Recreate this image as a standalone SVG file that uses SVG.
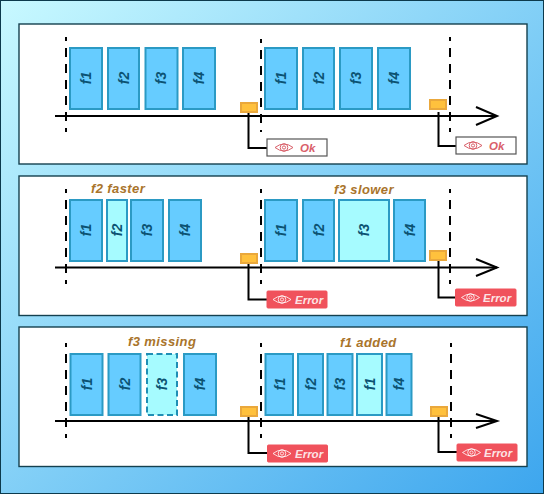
<svg xmlns="http://www.w3.org/2000/svg" width="544" height="494" viewBox="0 0 544 494">
<style>
.panel{fill:#fff;stroke:#14404f;stroke-width:1.4}
.fr{fill:#66ccff;stroke:#2b9ac4;stroke-width:2}
.hi{fill:#a6fbff;stroke:#2b9ac4;stroke-width:2}
.miss{fill:#a6fbff;stroke:#1f8eb5;stroke-width:2;stroke-dasharray:6 3.500}
.ft{font:italic bold 14px "Liberation Sans",Arial,sans-serif;fill:#0b5272;text-anchor:middle;dominant-baseline:central}
.note{font:italic bold 13px "Liberation Sans",Arial,sans-serif;fill:#a9742b;letter-spacing:.4px}
.axis{fill:none;stroke:#000;stroke-width:2}
.head{fill:none;stroke:#000;stroke-width:2}
.tick{stroke:#000;stroke-width:2;stroke-dasharray:9 7;stroke-dashoffset:5;fill:none}
.link{fill:none;stroke:#000;stroke-width:2}
.sensor{fill:#ffc13d;stroke:#eaa83c;stroke-width:2}
.okb{fill:#fff;stroke:#555;stroke-width:1.200}
.errb{fill:#f0525c;stroke:#f0525c;stroke-width:1}
.okt{font:italic bold 11.500px "Liberation Sans",Arial,sans-serif;fill:#d9606a}
.errt{font:italic bold 11.500px "Liberation Sans",Arial,sans-serif;fill:#fff;fill-opacity:.85}
.eo{fill:none;stroke:#d9606a;stroke-width:1}
.ee{fill:none;stroke:#fff;stroke-opacity:.8;stroke-width:1}
</style>
<defs>
<linearGradient id="bg" x1="0" y1="0" x2="1" y2="1"><stop offset="0" stop-color="#c8f9ff"/><stop offset="1" stop-color="#3da6ee"/></linearGradient>
<g id="eye"><path d="M-9 0Q0-7 9 0Q0 7-9 0Z"/><circle r="3.800"/><circle r="1.600"/></g>
</defs>
<rect id="bgrect" x=".5" y=".5" width="543" height="493" fill="url(#bg)" stroke="#0c3a4c"/>
<g id="panels">
<rect class="panel" x="19" y="24" width="508" height="140"/>
<rect class="panel" x="19" y="176" width="508" height="139.500"/>
<rect class="panel" x="19" y="327" width="508" height="139.500"/>
</g>
<g id="connectors">
<path class="tick" d="M66 37V132M261 39V132M450 37V132"/>
<path class="tick" d="M66 189V284M261 189V284M450 189V284"/>
<path class="tick" d="M66 343V438M261 343V438M451 343V438"/>
<path class="axis" d="M55 116H497"/><path class="head" d="M476 107L497 116L476 125"/>
<path class="axis" d="M55 267.500H497"/><path class="head" d="M476 259L497 267.500L476 276"/>
<path class="axis" d="M55 421H497"/><path class="head" d="M476 414L497 421L476 428"/>
<path class="link" d="M248.500 112V148H267M438.500 112V146H456"/>
<path class="link" d="M248.500 263V299.500H267M438.500 260V297.500H455"/>
<path class="link" d="M248.500 416V453H267M438.500 416V452H457"/>
</g>
<g id="row1-frames">
<g id="r1a1"><rect class="fr" x="70" y="48" width="32" height="61"/><text class="ft" transform="translate(86 78) rotate(-90)">f1</text></g>
<g id="r1a2"><rect class="fr" x="108" y="48" width="31" height="61"/><text class="ft" transform="translate(123.500 78) rotate(-90)">f2</text></g>
<g id="r1a3"><rect class="fr" x="145.500" y="48" width="32" height="61"/><text class="ft" transform="translate(161 78) rotate(-90)">f3</text></g>
<g id="r1a4"><rect class="fr" x="183" y="48" width="32" height="61"/><text class="ft" transform="translate(199 78) rotate(-90)">f4</text></g>
<g id="r1b1"><rect class="fr" x="265" y="48" width="32" height="61"/><text class="ft" transform="translate(281 78) rotate(-90)">f1</text></g>
<g id="r1b2"><rect class="fr" x="303" y="48" width="31" height="61"/><text class="ft" transform="translate(318.500 78) rotate(-90)">f2</text></g>
<g id="r1b3"><rect class="fr" x="340" y="48" width="32" height="61"/><text class="ft" transform="translate(356 78) rotate(-90)">f3</text></g>
<g id="r1b4"><rect class="fr" x="378" y="48" width="32" height="61"/><text class="ft" transform="translate(394 78) rotate(-90)">f4</text></g>
</g>
<g id="row2-frames">
<g id="r2a1"><rect class="fr" x="70" y="200" width="32" height="61"/><text class="ft" transform="translate(86 230) rotate(-90)">f1</text></g>
<g id="r2a2"><rect class="hi" x="107" y="200" width="20" height="61"/><text class="ft" transform="translate(117 230) rotate(-90)">f2</text></g>
<g id="r2a3"><rect class="fr" x="131" y="200" width="32" height="61"/><text class="ft" transform="translate(147 230) rotate(-90)">f3</text></g>
<g id="r2a4"><rect class="fr" x="169" y="200" width="32" height="61"/><text class="ft" transform="translate(185 230) rotate(-90)">f4</text></g>
<g id="r2b1"><rect class="fr" x="265" y="200" width="32" height="61"/><text class="ft" transform="translate(281 230) rotate(-90)">f1</text></g>
<g id="r2b2"><rect class="fr" x="303" y="200" width="31" height="61"/><text class="ft" transform="translate(318.500 230) rotate(-90)">f2</text></g>
<g id="r2b3"><rect class="hi" x="339" y="200" width="50" height="61"/><text class="ft" transform="translate(364 230) rotate(-90)">f3</text></g>
<g id="r2b4"><rect class="fr" x="394" y="200" width="31" height="61"/><text class="ft" transform="translate(409.500 230) rotate(-90)">f4</text></g>
</g>
<g id="row3-frames">
<g id="r3a1"><rect class="fr" x="70.500" y="354" width="32" height="61"/><text class="ft" transform="translate(86.500 384) rotate(-90)">f1</text></g>
<g id="r3a2"><rect class="fr" x="108.500" y="354" width="32" height="61"/><text class="ft" transform="translate(124.500 384) rotate(-90)">f2</text></g>
<g id="r3a3"><rect class="miss" x="147" y="354" width="30" height="61"/><text class="ft" transform="translate(162 384) rotate(-90)">f3</text></g>
<g id="r3a4"><rect class="fr" x="184" y="354" width="32" height="61"/><text class="ft" transform="translate(200 384) rotate(-90)">f4</text></g>
<g id="r3b1"><rect class="fr" x="265.500" y="354" width="27.500" height="61"/><text class="ft" transform="translate(279.500 384) rotate(-90)">f1</text></g>
<g id="r3b2"><rect class="fr" x="298" y="354" width="25" height="61"/><text class="ft" transform="translate(310.500 384) rotate(-90)">f2</text></g>
<g id="r3b3"><rect class="fr" x="327.500" y="354" width="25" height="61"/><text class="ft" transform="translate(340 384) rotate(-90)">f3</text></g>
<g id="r3b4"><rect class="hi" x="357" y="354" width="25" height="61"/><text class="ft" transform="translate(369.500 384) rotate(-90)">f1</text></g>
<g id="r3b5"><rect class="fr" x="386.500" y="354" width="25" height="61"/><text class="ft" transform="translate(399 384) rotate(-90)">f4</text></g>
</g>
<g id="notes">
<text class="note" x="91" y="193">f2 faster</text>
<text class="note" x="334" y="194">f3 slower</text>
<text class="note" x="128" y="346">f3 missing</text>
<text class="note" x="340" y="347">f1 added</text>
</g>
<g id="sensors">
<rect class="sensor" x="241" y="103" width="16" height="9"/>
<rect class="sensor" x="430" y="100" width="16" height="9"/>
<rect class="sensor" x="241" y="254" width="16" height="9"/>
<rect class="sensor" x="430" y="251" width="16" height="9"/>
<rect class="sensor" x="241" y="407" width="16" height="9"/>
<rect class="sensor" x="431" y="407" width="16" height="9"/>
</g>
<g id="st1"><rect class="okb" x="267" y="139" width="60" height="17"/><use href="#eye" class="eo" x="284" y="147.500"/><text class="okt" x="300" y="151.500">Ok</text></g>
<g id="st2"><rect class="okb" x="456" y="137" width="60" height="17"/><use href="#eye" class="eo" x="473" y="145.500"/><text class="okt" x="489" y="149.500">Ok</text></g>
<g id="st3"><rect class="errb" x="267" y="291" width="60" height="17" rx="1"/><use href="#eye" class="ee" x="282" y="299.500"/><text class="errt" x="295" y="303.500">Error</text></g>
<g id="st4"><rect class="errb" x="455.500" y="289" width="60.500" height="17" rx="1"/><use href="#eye" class="ee" x="470.500" y="297.500"/><text class="errt" x="483" y="301.500">Error</text></g>
<g id="st5"><rect class="errb" x="267.500" y="445" width="60" height="17" rx="1"/><use href="#eye" class="ee" x="282" y="453.500"/><text class="errt" x="295" y="457.500">Error</text></g>
<g id="st6"><rect class="errb" x="457" y="444" width="60" height="17" rx="1"/><use href="#eye" class="ee" x="471.500" y="452.500"/><text class="errt" x="484" y="456.500">Error</text></g>
</svg>
